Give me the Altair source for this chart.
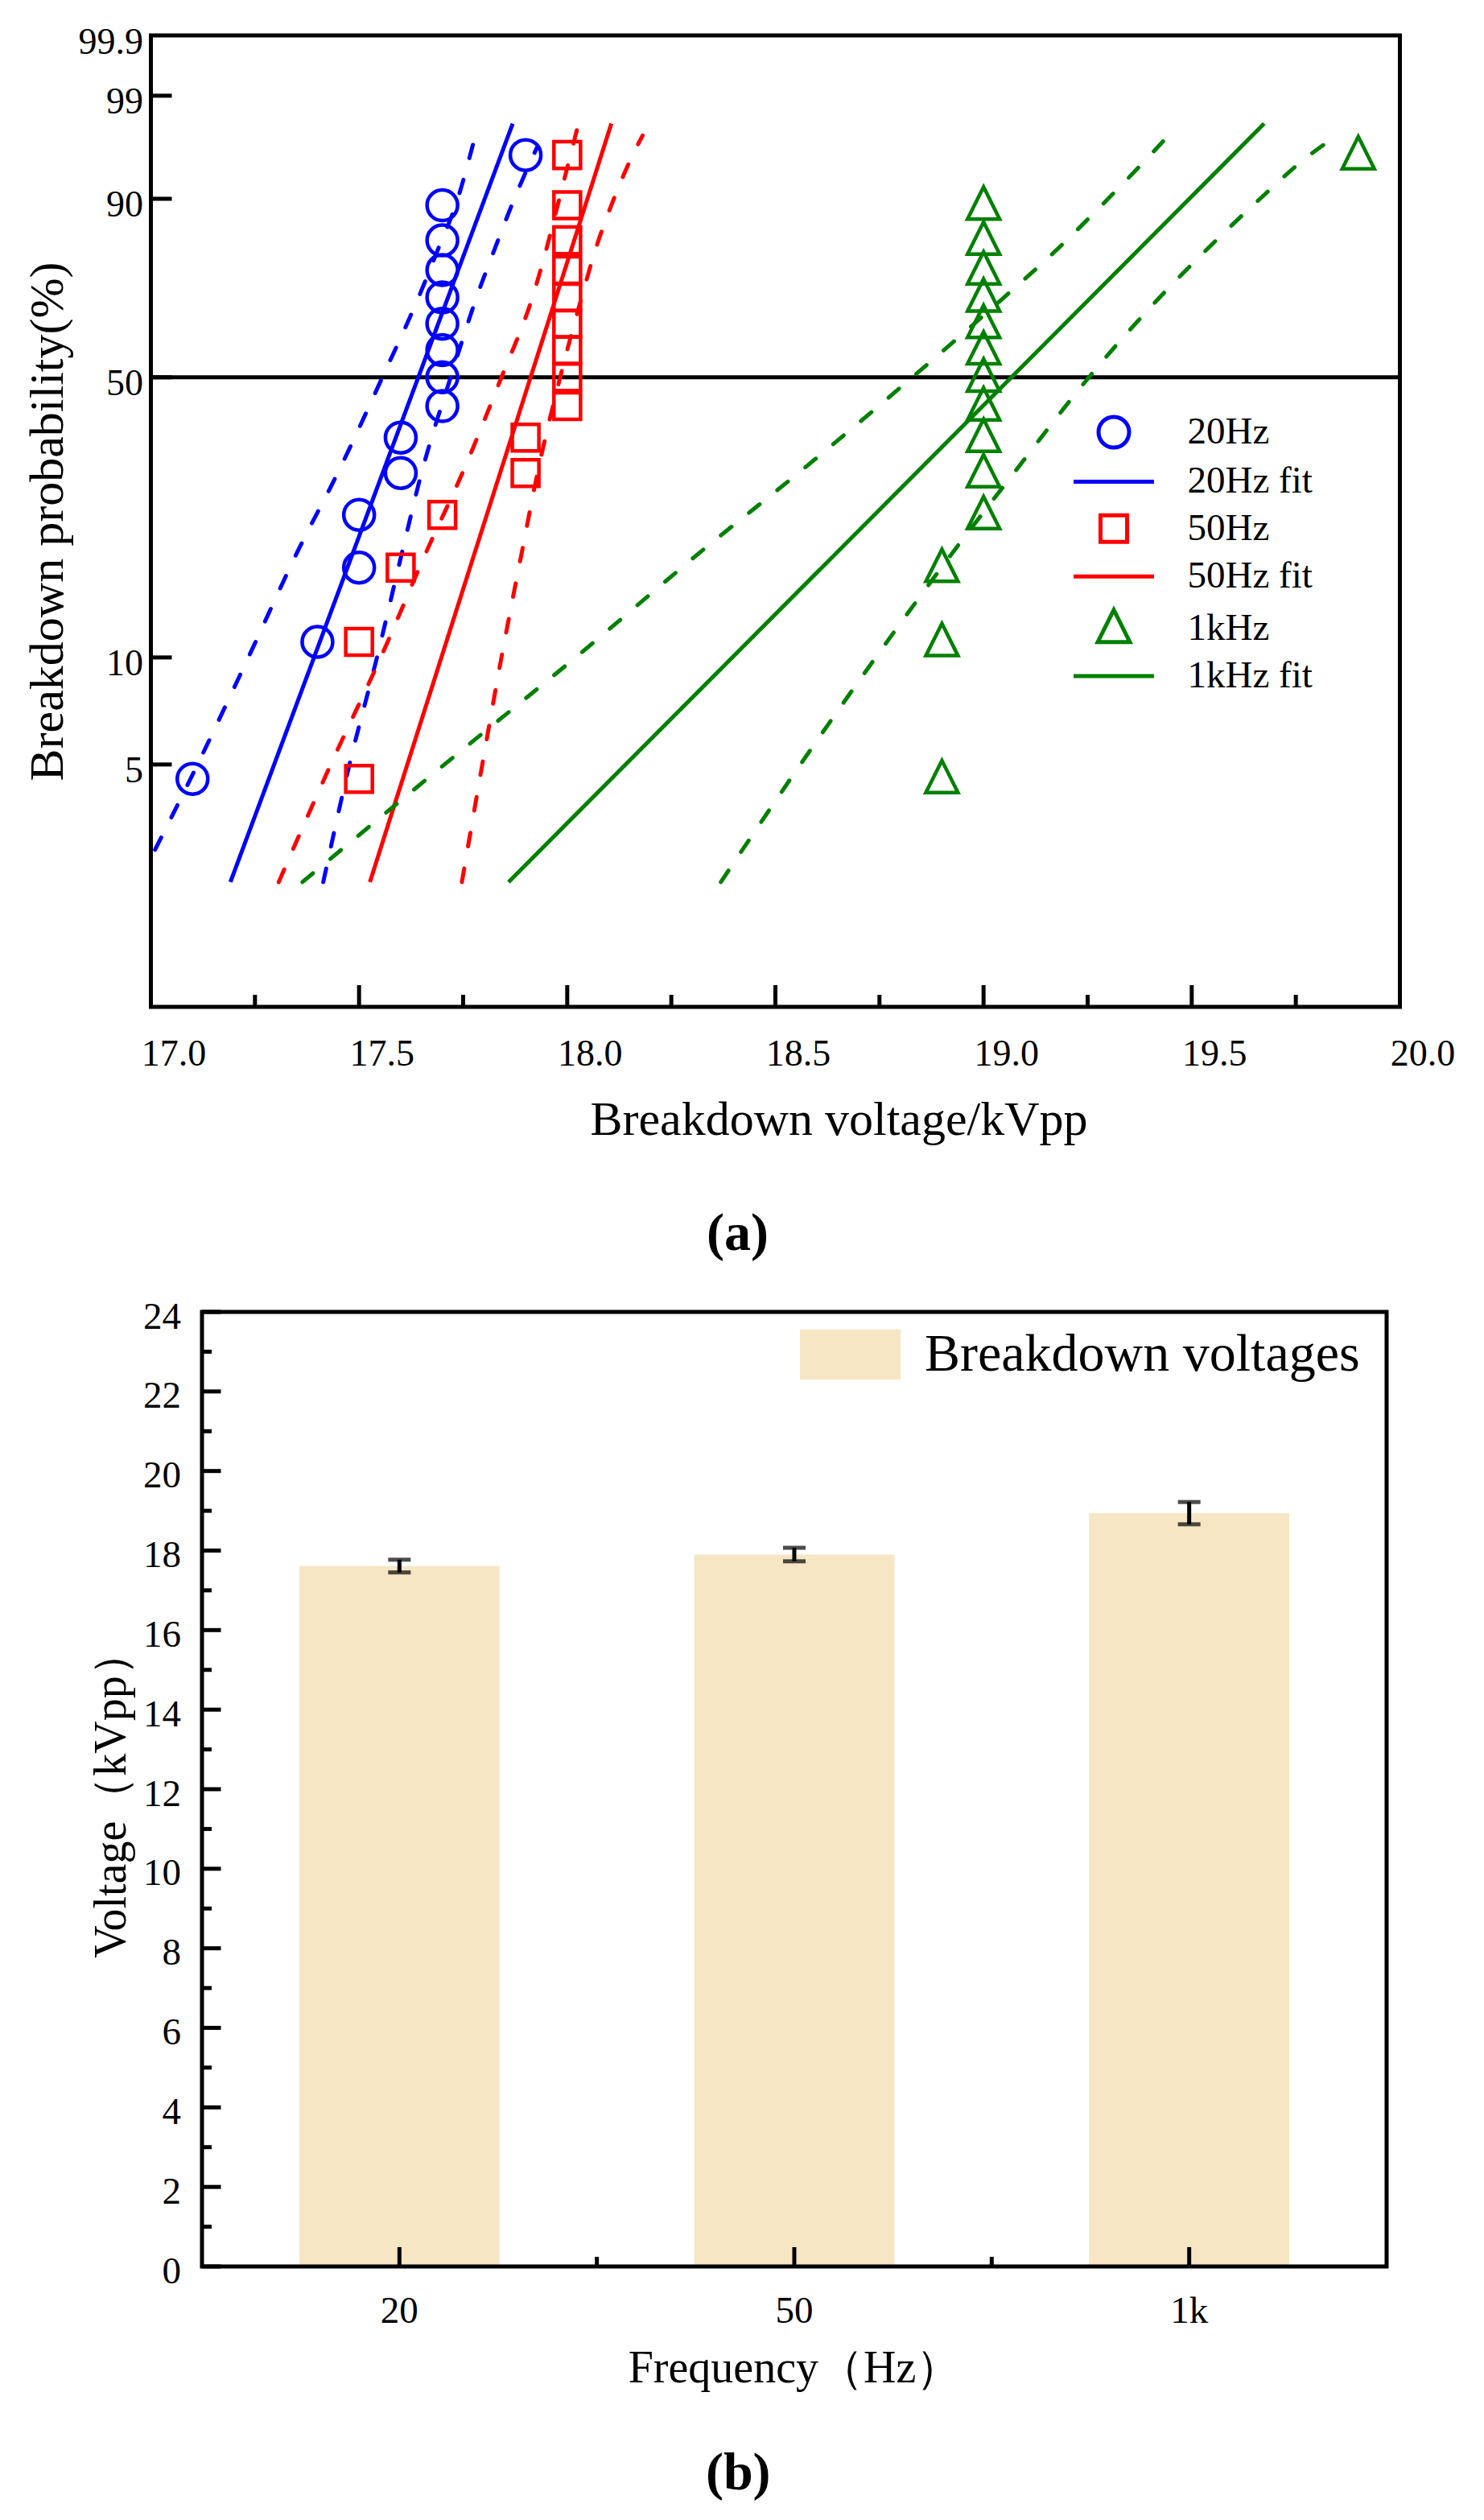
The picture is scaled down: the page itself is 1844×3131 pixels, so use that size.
import math
import pandas as pd
import altair as alt

FONT = 'Liberation Serif'

# ---------------- (a) Weibull probability plot ----------------
# median-rank probabilities (%) of the 15 breakdowns per frequency
RANK_P = [4.55, 11.04, 17.53, 24.03, 30.52, 37.01, 43.51, 50.0,
          56.49, 62.99, 69.48, 75.97, 82.47, 88.96, 95.45]
V_20HZ = [17.1, 17.4, 17.5, 17.5, 17.6, 17.6, 17.7, 17.7,
          17.7, 17.7, 17.7, 17.7, 17.7, 17.7, 17.9]
V_50HZ = [17.5, 17.5, 17.6, 17.7, 17.9, 17.9, 18.0, 18.0,
          18.0, 18.0, 18.0, 18.0, 18.0, 18.0, 18.0]
V_1KHZ = [18.9, 18.9, 18.9, 19.0, 19.0, 19.0, 19.0, 19.0,
          19.0, 19.0, 19.0, 19.0, 19.0, 19.0, 19.9]

# fitted lines (kV at the two ends) and their probability range (%)
FIT_P = [2.3, 97.8]
FIT_20HZ = [17.191, 17.869]
FIT_50HZ = [17.526, 18.106]
FIT_1KHZ = [17.859, 19.674]

# confidence bounds (dashed)
B20_LO_P = [2.85, 5, 10, 20, 30, 50, 70, 80, 90, 95, 96.55]
B20_LO_KV = [17.01, 17.112, 17.234, 17.359, 17.445, 17.556, 17.645, 17.687, 17.737, 17.764, 17.775]
B20_HI_P = [2.3, 5, 10, 20, 30, 50, 70, 80, 90, 95, 96.1]
B20_HI_KV = [17.414, 17.477, 17.543, 17.607, 17.648, 17.720, 17.784, 17.823, 17.873, 17.914, 17.927]
B50_LO_P = [2.3, 5, 10, 20, 30, 50, 70, 80, 90, 95, 97.5]
B50_LO_KV = [17.307, 17.432, 17.552, 17.668, 17.745, 17.842, 17.918, 17.948, 17.981, 18.005, 18.024]
B50_HI_P = [2.3, 5, 10, 20, 30, 50, 70, 80, 90, 95, 97.05]
B50_HI_KV = [17.747, 17.796, 17.842, 17.894, 17.927, 17.983, 18.036, 18.066, 18.112, 18.152, 18.181]
B1K_LO_P = [2.3, 5, 10, 20, 30, 50, 70, 80, 90, 95, 97.6]
B1K_LO_KV = [17.364, 17.705, 18.020, 18.338, 18.546, 18.829, 19.055, 19.170, 19.299, 19.390, 19.463]
B1K_HI_P = [2.3, 5, 10, 20, 30, 50, 70, 80, 90, 95, 96.95]
B1K_HI_KV = [18.369, 18.560, 18.741, 18.938, 19.067, 19.253, 19.428, 19.530, 19.664, 19.769, 19.844]

# legend entries; the "fit" entries are indented a little, as in the original figure
INDENT = '\u2002\u2009'
SERIES = ['20Hz', INDENT + '20Hz fit', '50Hz', INDENT + '50Hz fit', '1kHz', INDENT + '1kHz fit']
SERIES_COLORS = ['#0000FF', '#0000FF', '#FF0000', '#FF0000', '#008000', '#008000']
LINE_PATH = 'M-2.63,0H2.63'
SQUARE_PATH = 'M-0.87,-0.87H0.87V0.87H-0.87Z'
TRI_PATH = 'M0,-1.2L1.05,0.9L-1.05,0.9Z'
SERIES_SHAPES = ['circle', LINE_PATH, SQUARE_PATH, LINE_PATH, TRI_PATH, LINE_PATH]

X_MAJOR = [17.0, 17.5, 18.0, 18.5, 19.0, 19.5, 20.0]
X_MINOR = [17.25, 17.75, 18.25, 18.75, 19.25, 19.75]
Y_TICK_P = [5, 10, 50, 90, 99]
Y_LABEL_P = [5, 10, 50, 90, 99, 99.9]


def weib(p):
    return math.log(-math.log(1 - p / 100))


W_A, H_A = 1552, 1207
W_CALC = 'log(-log(1 - datum.p / 100))'

pts = pd.DataFrame([
    {'series': s, 'kv': v, 'p': p}
    for s, vals in [('20Hz', V_20HZ), ('50Hz', V_50HZ), ('1kHz', V_1KHZ)]
    for v, p in zip(vals, RANK_P)
])
fits = pd.DataFrame([
    {'series': s, 'kv': v, 'p': p, 'i': i}
    for s, vals in [('20Hz fit', FIT_20HZ), ('50Hz fit', FIT_50HZ), ('1kHz fit', FIT_1KHZ)]
    for i, (v, p) in enumerate(zip(vals, FIT_P))
])
bounds = pd.DataFrame([
    {'series': s, 'curve': c, 'kv': v, 'p': p, 'i': i}
    for s, c, kvs, ps in [
        ('20Hz fit', '20lo', B20_LO_KV, B20_LO_P), ('20Hz fit', '20hi', B20_HI_KV, B20_HI_P),
        ('50Hz fit', '50lo', B50_LO_KV, B50_LO_P), ('50Hz fit', '50hi', B50_HI_KV, B50_HI_P),
        ('1kHz fit', '1klo', B1K_LO_KV, B1K_LO_P), ('1kHz fit', '1khi', B1K_HI_KV, B1K_HI_P),
    ]
    for i, (v, p) in enumerate(zip(kvs, ps))
])

axis_xa = alt.Axis(values=X_MAJOR, format='.1f', title='Breakdown voltage/kVpp', grid=False,
                   ticks=False, tickSize=0, domain=False, labelFont=FONT, labelFontSize=46,
                   labelColor='black', labelPadding=36, labelOffset=28, labelFlush=False,
                   labelOverlap=False, titleFont=FONT, titleFontSize=60, titleFontWeight='normal',
                   titleColor='black', titleX=854.5, titleY=158, titleBaseline='alphabetic')
axis_ya = alt.Axis(values=[weib(p) for p in Y_LABEL_P],
                   labelExpr="format(100 * (1 - exp(-exp(datum.value))), '.3~')",
                   title='Breakdown probability(%)', grid=False, ticks=False, tickSize=0,
                   domain=False, labelFont=FONT, labelFontSize=46, labelColor='black',
                   labelPadding=10, labelOffset=8, labelOverlap=False, titleFont=FONT,
                   titleFontSize=60, titleFontWeight='normal', titleColor='black',
                   titleX=-110, titleY=603.5, titleAngle=270, titleBaseline='alphabetic',
                   titleAlign='center')
X_A = alt.X('kv:Q', scale=alt.Scale(domain=[17, 20], nice=False, zero=False), axis=axis_xa)
Y_A = alt.Y('w:Q', scale=alt.Scale(domain=[weib(1), weib(99.9)], nice=False, zero=False),
            axis=axis_ya)

legend_a = alt.Legend(orient='none', legendX=1173, legendY=469.5, title=None, padding=0,
                      labelFont=FONT, labelFontSize=47, labelColor='black', labelOffset=68,
                      labelLimit=0, rowPadding=7.4, symbolSize=1444, symbolStrokeWidth=5,
                      symbolFillColor='transparent')

half_line = alt.Chart(pd.DataFrame({'p': [50]})).transform_calculate(w=W_CALC).mark_rule(
    color='black', strokeWidth=5).encode(y=Y_A)
xtick_major = alt.Chart(pd.DataFrame({'kv': X_MAJOR})).mark_rule(
    color='black', strokeWidth=5).encode(x=X_A, y=alt.value(H_A), y2=alt.value(H_A - 27))
xtick_minor = alt.Chart(pd.DataFrame({'kv': X_MINOR})).mark_rule(
    color='black', strokeWidth=5).encode(x=X_A, y=alt.value(H_A), y2=alt.value(H_A - 15))
ytick = alt.Chart(pd.DataFrame({'p': Y_TICK_P})).transform_calculate(w=W_CALC).mark_rule(
    color='black', strokeWidth=5).encode(y=Y_A, x=alt.value(0), x2=alt.value(26))

line_layers = []
for name, color in [('20Hz fit', '#0000FF'), ('50Hz fit', '#FF0000'), ('1kHz fit', '#008000')]:
    line_layers.append(
        alt.Chart(bounds).transform_filter(alt.datum.series == name)
        .transform_calculate(w=W_CALC)
        .mark_line(color=color, strokeWidth=5, strokeDash=[17, 28], strokeCap='round',
                   clip=True, interpolate='monotone')
        .encode(x=X_A, y=Y_A, detail='curve:N', order='i:Q'))
    line_layers.append(
        alt.Chart(fits).transform_filter(alt.datum.series == name)
        .transform_calculate(w=W_CALC)
        .mark_line(color=color, strokeWidth=5)
        .encode(x=X_A, y=Y_A, order='i:Q'))

points = alt.Chart(pts).transform_calculate(w=W_CALC).mark_point(
    filled=False, size=1444, strokeWidth=4.5, opacity=1
).encode(
    x=X_A, y=Y_A,
    color=alt.Color('series:N', scale=alt.Scale(domain=SERIES, range=SERIES_COLORS),
                    legend=legend_a),
    shape=alt.Shape('series:N', scale=alt.Scale(domain=SERIES, range=SERIES_SHAPES),
                    legend=legend_a),
)

chart_a = alt.layer(half_line, xtick_major, xtick_minor, ytick, *line_layers, points).properties(
    width=W_A, height=H_A,
    view=alt.ViewBackground(stroke='black', strokeWidth=5),
    title=alt.TitleParams('(a)', orient='bottom', anchor='middle', frame='group', dx=-47,
                          offset=80, baseline='top', font=FONT, fontSize=66,
                          fontWeight='bold', color='black'),
)

# ---------------- (b) mean breakdown voltages ----------------
FREQ = ['20', '50', '1k']
MEAN_KV = [17.61, 17.90, 18.94]
ERR_KV = [0.16, 0.17, 0.28]
LEGEND_B = 'Breakdown voltages'
BAR_COLOR = '#F7E6C4'
Y_MAJOR_B = list(range(0, 25, 2))
Y_MINOR_B = list(range(1, 24, 2))

# panel (b) is drawn inside a group that starts at the left edge of panel (a);
# its frame begins OFF_B pixels further right
OFF_B = 63.5
W_B, H_B = 1535.5, 1186

bars = pd.DataFrame({'freq': FREQ, 'mean': MEAN_KV, 'err': ERR_KV,
                     'label': [LEGEND_B] * len(FREQ)})

axis_xb = alt.Axis(title='Frequency（Hz）', labelAngle=0, grid=False, ticks=False, tickSize=0,
                   domain=False, labelFont=FONT, labelFontSize=47, labelColor='black',
                   labelPadding=32, titleFont=FONT, titleFontSize=56, titleFontWeight='normal',
                   titleColor='black', titleX=799.5, titleY=143, titleBaseline='alphabetic')
axis_yb = alt.Axis(values=Y_MAJOR_B, title='Voltage（kVpp）', grid=False, ticks=False,
                   tickSize=0, domain=False, offset=-OFF_B, labelFont=FONT, labelFontSize=47,
                   labelColor='black', labelPadding=26.5, labelOffset=6, labelOverlap=False,
                   titleFont=FONT, titleFontSize=56, titleFontWeight='normal',
                   titleColor='black', titleX=-96, titleY=599, titleAngle=270,
                   titleBaseline='alphabetic', titleAlign='center')
scale_xb = alt.Scale(domain=FREQ, paddingInner=0, paddingOuter=0.0647, align=1)
scale_yb = alt.Scale(domain=[0, 24], nice=False, zero=True)


def xb(pos=0.5):
    return alt.X('freq:N', scale=scale_xb, axis=axis_xb, bandPosition=pos, sort=FREQ)


def yb(field):
    return alt.Y(field, scale=scale_yb, axis=axis_yb)


legend_b = alt.Legend(orient='none', legendX=806.5, legendY=-9.6, title=None, padding=0,
                      labelFont=FONT, labelFontSize=66, labelColor='black', labelOffset=30,
                      labelLimit=0, symbolType='M-1,-0.5H1V0.5H-1Z', symbolSize=15625,
                      symbolStrokeWidth=0)

bar_layer = alt.Chart(bars).mark_bar(width={'band': 0.507}).encode(
    x=xb(), y=yb('mean:Q'),
    color=alt.Color('label:N', scale=alt.Scale(domain=[LEGEND_B], range=[BAR_COLOR]),
                    legend=legend_b),
)
err_base = alt.Chart(bars).transform_calculate(
    lo='datum.mean - datum.err', hi='datum.mean + datum.err')
err_rule = err_base.mark_rule(color='black', strokeWidth=5).encode(
    x=xb(), y=yb('lo:Q'), y2='hi:Q')
err_caps = err_base.transform_fold(['lo', 'hi'], as_=['end', 'v']).mark_tick(
    color='black', size=28, thickness=5).encode(x=xb(), y=yb('v:Q'))

ytick_b_major = alt.Chart(pd.DataFrame({'v': Y_MAJOR_B})).mark_rule(
    color='black', strokeWidth=5).encode(y=yb('v:Q'), x=alt.value(OFF_B), x2=alt.value(OFF_B + 23.5))
ytick_b_minor = alt.Chart(pd.DataFrame({'v': Y_MINOR_B})).mark_rule(
    color='black', strokeWidth=5).encode(y=yb('v:Q'), x=alt.value(OFF_B), x2=alt.value(OFF_B + 12))
xtick_b_major = alt.Chart(pd.DataFrame({'freq': FREQ})).mark_rule(
    color='black', strokeWidth=5).encode(x=xb(0.5), y=alt.value(H_B), y2=alt.value(H_B - 24))
xtick_b_minor = alt.Chart(pd.DataFrame({'freq': FREQ[:-1]})).mark_rule(
    color='black', strokeWidth=5).encode(x=xb(1), y=alt.value(H_B), y2=alt.value(H_B - 12))
frame_b = alt.Chart(pd.DataFrame({'v': [0]})).mark_rect(
    fillOpacity=0, stroke='black', strokeWidth=5).encode(
    x=alt.value(OFF_B), x2=alt.value(W_B), y=alt.value(0), y2=alt.value(H_B))

chart_b = alt.layer(bar_layer, err_rule, err_caps, ytick_b_major, ytick_b_minor,
                    xtick_b_major, xtick_b_minor, frame_b).properties(
    width=W_B, height=H_B,
    view=alt.ViewBackground(stroke='transparent'),
    title=alt.TitleParams('(b)', orient='bottom', anchor='middle', frame='group', dx=-38,
                          offset=71, baseline='top', font=FONT, fontSize=66,
                          fontWeight='bold', color='black'),
)

chart = alt.vconcat(chart_a, chart_b, spacing=42).resolve_scale(
    color='independent', shape='independent'
).properties(
    padding={'left': 18.5, 'top': 18, 'right': 0, 'bottom': 0},
)

chart.save("out.html", embed_options={"renderer": "svg", "actions": False})
